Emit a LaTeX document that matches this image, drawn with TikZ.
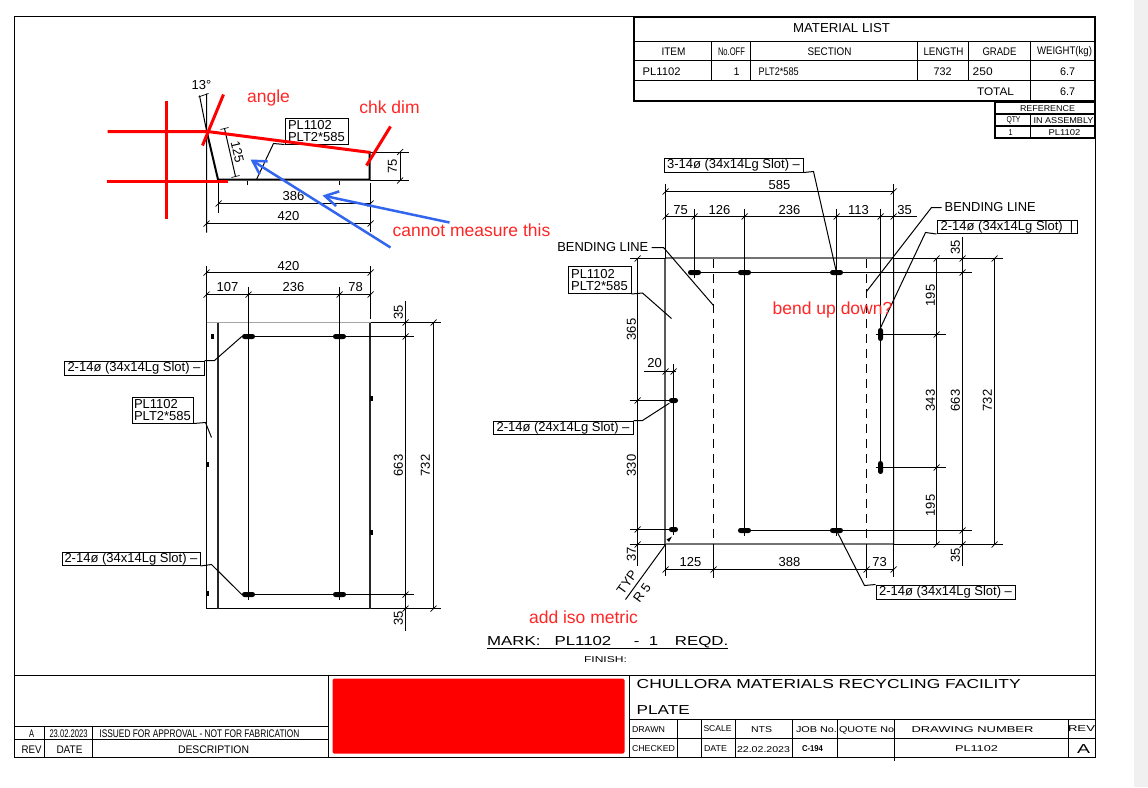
\documentclass[tikz,border=0pt]{standalone}
\usepackage{fontspec}
\usepackage{graphicx}
\setmainfont{Liberation Sans}
\usetikzlibrary{arrows.meta}
\definecolor{annred}{HTML}{FF2626}
\definecolor{annblue}{HTML}{3366EE}
\newcommand\W[2]{\resizebox{#1pt}{\height}{#2}}
\newcommand\fs[1]{\fontsize{#1}{#1}\selectfont}
\tikzset{
  x=1pt,y=-1pt,
  lbl/.style={inner sep=0pt,font=\fs{13}},
  small/.style={inner sep=0pt,font=\fs{11}},
  tiny/.style={inner sep=0pt,font=\fs{8.5}},
  vlbl/.style={inner sep=0pt,font=\fs{13},rotate=90},
  note/.style={inner sep=0pt,font=\fs{17.5},text=annred},
  tag/.style={draw,line width=1pt,inner sep=0pt,font=\fs{13},anchor=north west},
  tag2/.style={tag,align=left,font=\fontsize{13}{12}\selectfont},
  thin line/.style={line width=1pt},
  frame line/.style={line width=1.5pt},
  heavy line/.style={line width=2pt},
  tick/.style={line width=0.7pt},
  hslot/.style={fill=black,rectangle,rounded corners=2.4pt,minimum width=13pt,minimum height=5pt,inner sep=0pt},
  vslot/.style={fill=black,rectangle,rounded corners=2.4pt,minimum width=5pt,minimum height=13pt,inner sep=0pt},
  rslot/.style={fill=black,rectangle,rounded corners=2.4pt,minimum width=9pt,minimum height=5pt,inner sep=0pt},
  redmark/.style={draw=red,line width=3pt},
  bluearrow/.style={draw=annblue,line width=2.5pt,-{Straight Barb[length=13pt,width=15pt,line width=2.5pt]}},
}
\begin{document}
\begin{tikzpicture}
\useasboundingbox (0,0) rectangle (1148,787);
\fill[white] (0,0) rectangle (1148,787);
\fill[black!6] (1134,0) rectangle (1148,787);
\begin{scope}[shift={(0.5,0.5)}]

% ---------- sheet frame
\draw[frame line] (634,16) -- (14,16) -- (14,757) -- (1095,757) -- (1095,16);

% ---------- material list
\draw[heavy line] (633.5,16.5) rectangle (1094.5,100.5);
\draw[thin line] (634,41) -- (1095,41) (634,60) -- (1095,60) (634,80) -- (1095,80);
\draw[thin line] (711,41) -- (711,80) (750,41) -- (750,80) (917,41) -- (917,80) (968,41) -- (968,80) (1030,41) -- (1030,101);
\node[lbl] (mlt) at (841,28) {\W{97}{MATERIAL LIST}};
\foreach \x/\y/\w/\s [count=\i] in {
  673/51.5/24/ITEM, 731/51.5/27/No.OFF, 829/51.5/44/SECTION, 943/51.5/40/LENGTH, 999/51.5/34/GRADE,
  1064/51.5/55/WEIGHT(kg), 736/71.5/6/1, 942/71.5/18/732, 1067/71.5/15/6.7, 995/91/37/TOTAL, 1067/91/15/6.7}
  \node[small] (mt\i) at (\x,\y) {\W{\w}{\s}};
\node[small,anchor=west] (mt12) at (642,71.5) {\W{38}{PL1102}};
\node[small,anchor=west] (mt13) at (758,71.5) {\W{40}{PLT2*585}};
\node[small,anchor=west] (mt14) at (972,71.5) {\W{20}{250}};
\draw[heavy line] (994.5,101.5) rectangle (1094.5,137.5);
\draw[heavy line] (994.5,113.5) -- (1094.5,113.5) (994.5,125.5) -- (1094.5,125.5);
\draw[thin line] (1029.5,114) -- (1029.5,138);
\foreach \x/\y/\w/\s [count=\i] in {
  1047/108/55/REFERENCE, 1013/120/14/QTY, 1063/120/60/IN ASSEMBLY, 1010/132/4/1, 1064/132/32/PL1102}
  \node[tiny] (rt\i) at (\x,\y) {\W{\w}{\s}};

% ---------- title block
\draw[thin line] (14,675) -- (1095,675);
\draw[thin line] (328,674) -- (328,757) (629,675) -- (629,757);
\draw[thin line] (14,725.5) -- (328,725.5) (14,739) -- (328,739);
\draw[thin line] (44,725.5) -- (44,757) (92,725.5) -- (92,757);
\draw[thin line] (629,719) -- (1095,719) (629,738) -- (1095,738);
\foreach \x in {677,701,735,792,837,894,1068} \draw[thin line] (\x,719) -- (\x,757);
\draw[thin line] (894,757) -- (894,760);
\fill[red,rounded corners=1.5pt] (332,678) rectangle (624,753);
\foreach \x/\y/\w/\s [count=\i] in {
  31/733/5/A, 68/733/38/23.02.2023, 199/733/200/ISSUED FOR APPROVAL - NOT FOR FABRICATION,
  31/749.5/20/REV, 69/749/26/DATE, 213/749/71/DESCRIPTION}
  \node[small] (rv\i) at (\x,\y) {\W{\w}{\s}};
\node[lbl,anchor=west] (tb1) at (636,684) {\W{384}{CHULLORA MATERIALS RECYCLING FACILITY}};
\node[lbl,anchor=west] (tb2) at (636,709.5) {\W{53}{PLATE}};
\foreach \x/\y/\w/\s [count=\i] in {
  648/729.5/33/DRAWN, 653/748.5/43/CHECKED, 717/728.5/28/SCALE, 761/729.5/21/NTS, 816/729.5/41/JOB No.,
  866/729.5/55/QUOTE No, 972/729.5/122/DRAWING NUMBER, 1081/728/27/REV, 715/748/23/DATE,
  763/749/53/22.02.2023, 976/748/43/PL1102}
  \node[tiny] (tc\i) at (\x,\y) {\W{\w}{\s}};
\node[lbl] (tc12) at (1083,748.5) {\W{13}{A}};
\node[tiny,font=\fs{8.5}\bfseries] (tc13) at (812,748) {\W{21}{C-194}};

% ---------- mark line
\node[lbl,anchor=west] (mk) at (486.5,642) {\W{241}{MARK:\ \ \ PL1102\ \ \ \ \hspace{3pt}-\ \ 1\ \ \ \hspace{2pt}REQD.}};
\draw[thin line] (486,648) -- (727,648);
\node[tiny] (fin) at (605,659) {\W{43}{FINISH:}};

% ---------- section view (top left)
\draw[heavy line] (206,130) -- (217.5,179) -- (369,179) -- (369,152);
\draw[thin line] (206,93) -- (206,232) (206,130) -- (199,95);
\draw[tick] (198,96.5) -- (208,93);
\node[lbl] (an) at (201,85) {13°};
\draw[thin line] (224,128) -- (235,176);
\foreach \p in {(224,128),(235,176)} \draw[tick] \p ++(-4,1) -- ++(8,-2);
\node[lbl,rotate=-77] (d125) at (237,151.5) {125};
\draw[thin line] (369,151.5) -- (408,151.5) (369,180) -- (408,180) (399.5,151.5) -- (399.5,180);
\foreach \p in {(399.5,151.5),(399.5,180)} \draw[tick] \p ++(-3,3) -- ++(6,-6);
\node[vlbl] (d75) at (392,165.5) {75};
\draw[thin line] (218,181) -- (218,212) (370,182) -- (370,231) (218,203) -- (370,203) (206,223) -- (370,223);
\foreach \p in {(218,203),(370,203),(206,223),(370,223)} \draw[tick] \p ++(-3,3) -- ++(6,-6);
\node[lbl] (d386) at (293,196) {386};
\node[lbl] (d420a) at (288,215.5) {420};
\draw[thin line] (247,180) -- (247,184) (339,180) -- (339,184);
\node[tag2,minimum width=63pt,minimum height=26pt] (tagA) at (284,117) {PL1102\\PLT2*585};
\draw[thin line] (tagA.south west) -- (273,143) -- (256,179);

% ---------- left plan view
\draw[thin line,black!35] (206,322) -- (370,322);
\draw[thin line] (206,322) -- (206,608) -- (370,608);
\draw[heavy line,black!85] (217.5,322) -- (217.5,608) (369.5,322) -- (369.5,608);
\node[hslot] (s1) at (248,336) {};
\node[hslot] (s2) at (339,336) {};
\node[hslot] (s3) at (248,594) {};
\node[hslot] (s4) at (339,594) {};
\draw[thin line] (248,286) -- (248,599) (339,286) -- (339,599);
\draw[thin line] (s1) -- (413,336) (s3) -- (413,594);
\foreach \x/\y in {212/336,207.5/464,207.5/593,371/398,371/532}
  \fill (\x-1.2,\y-2.5) rectangle (\x+1.2,\y+2.5);
\draw[thin line] (206,265) -- (206,322) (370,265) -- (370,318) (206,272) -- (370,272) (206,294) -- (370,294);
\foreach \p in {(206,272),(370,272),(206,294),(248,294),(339,294),(370,294)} \draw[tick] \p ++(-3,3) -- ++(6,-6);
\draw[thin line] (405,300) -- (405,630) (433,322) -- (433,608) (370,322) -- (440,322) (370,608) -- (440,608);
\foreach \p in {(405,322),(405,336),(405,594),(405,608),(433,322),(433,608)} \draw[tick] \p ++(-3,3) -- ++(6,-6);
\foreach \x/\y/\s [count=\i] in {288/266/420,227/287/107,293/287/236,355/287/78}
  \node[lbl] (la\i) at (\x,\y) {\s};
\foreach \x/\y/\s [count=\i] in {398/312/35,398/465/663,398/618/35,425/465/732}
  \node[vlbl] (lv\i) at (\x,\y) {\s};
\node[tag,minimum width=140pt,minimum height=14pt] (tagB) at (63,360) {2-14ø (34x14Lg Slot) –};
\draw[thin line] (tagB.north east) -- (214,360) -- (s1.west);
\node[tag2,minimum width=61pt,minimum height=26pt] (tagC) at (131,396) {PL1102\\PLT2*585};
\draw[thin line] (tagC.south east) -- (205,422) -- (211,437);
\node[tag,minimum width=138pt,minimum height=13.5pt] (tagD) at (61,551) {2-14ø (34x14Lg Slot) –};
\draw[thin line] (tagD.south east) -- (211,564) -- (s3.west);

% ---------- right plan view
\draw[line width=1.6pt,black!65] (664.5,258) -- (664.5,544);
\draw[heavy line,black!55] (665,257.5) -- (893,257.5) (665,543.5) -- (893,543.5);
\draw[line width=1.2pt,black!15] (894,258) -- (894,544);
\draw[thin line,dash pattern=on 9pt off 6pt] (713,258) -- (713,544) (866,258) -- (866,544);
\draw[thin line] (713,544) -- (713,577) (866,544) -- (866,577);
\node[hslot] (r1) at (694,272) {};
\node[hslot] (r2) at (744,272) {};
\node[hslot] (r3) at (836,272) {};
\node[hslot] (r4) at (744,530) {};
\node[hslot] (r5) at (836,530) {};
\node[rslot] (r6) at (673,400) {};
\node[rslot] (r7) at (673,529) {};
\node[vslot] (r8) at (880,334) {};
\node[vslot] (r9) at (880,467) {};
\draw[thin line] (694,208) -- (694,277) (744,208) -- (744,535) (836,208) -- (836,535) (880,208) -- (880,473) (673,363) -- (673,534);
\draw[thin line] (665,183) -- (665,258) (665,544) -- (665,575) (893,183) -- (893,576);
\draw[thin line] (665,191) -- (893,191) (665,216) -- (916,216) (665,569) -- (893,569);
\draw[thin line] (629,258) -- (665,258) (893,258) -- (1002,258) (629,544) -- (665,544) (893,544) -- (1002,544);
\draw[thin line] (r1) -- (971,272) (r4) -- (971,530);
\draw[thin line] (629,400) -- (r6) (629,529) -- (r7);
\draw[thin line] (875,334) -- (945,334) (875,467) -- (945,467);
\draw[thin line] (637,258) -- (637,565) (643,371) -- (675,371);
\draw[thin line] (936,258) -- (936,544) (962,236) -- (962,565) (994,258) -- (994,544);
\foreach \p in {(665,191),(893,191),(665,216),(694,216),(744,216),(836,216),(880,216),(893,216),
  (665,569),(713,569),(866,569),(893,569),(665,371),(673,371),
  (637,258),(637,400),(637,529),(637,544),
  (936,258),(936,334),(936,467),(936,544),(962,258),(962,272),(962,530),(962,544),(994,258),(994,544)}
  \draw[tick] \p ++(-3,3) -- ++(6,-6);
\foreach \x/\y/\s [count=\i] in {779/185/585,680/210/75,719/210/126,789/210/236,858/210/113,904/210/35,
  654/363/20,690/561.5/125,789/561.5/388,879/561.5/73}
  \node[lbl] (lb\i) at (\x,\y) {\s};
\foreach \x/\y/\s [count=\i] in {631/329/365,631/465/330,631/554/37,930/295/195,930/400/343,930/505/195,
  955/247/35,955/400/663,955/555/35,987/400/732}
  \node[vlbl] (lc\i) at (\x,\y) {\s};
\node[tag,minimum width=139pt,minimum height=14pt] (tagE) at (663,157) {3-14ø (34x14Lg Slot) –};
\draw[thin line] (tagE.south east) -- (813,171) -- (r3);
\node[lbl,anchor=east] (bl1) at (648,247) {\W{91}{BENDING LINE}};
\coordinate (bl1e) at (713,305);
\draw[thin line] (bl1.east) ++(3,0) -- (663,247) -- (bl1e);
\node[tag2,minimum width=63pt,minimum height=27pt] (tagF) at (567,265.5) {PL1102\\PLT2*585};
\draw[thin line] (tagF.south east) -- (642,292.5) -- (671,318);
\node[lbl,anchor=west] (bl2) at (944,207) {\W{91}{BENDING LINE}};
\coordinate (bl2e) at (866,291);
\draw[thin line] (bl2.west) ++(-3,0) -- (931,207) -- (bl2e);
\node[tag,minimum width=140pt,minimum height=13.5pt] (tagG) at (936,219) {2-14ø (34x14Lg Slot)\ \ |};
\draw[thin line] (tagG.south west) -- (925,232) -- (r8.north);
\node[tag,minimum width=140pt,minimum height=13.5pt] (tagH) at (492,420) {2-14ø (24x14Lg Slot) –};
\draw[thin line] (tagH.north east) -- (642,420) -- (r6);
\node[tag,minimum width=139pt,minimum height=14pt] (tagI) at (875,584) {2-14ø (34x14Lg Slot) –};
\draw[thin line] (tagI.north west) -- (864,585) -- (r5);
\coordinate (typ) at (625,599);
\coordinate (typc) at (665,544);
\draw[thin line] (typ) -- (typc);
\fill (668.5,541.5) -- (671.5,536) -- (666,539) -- cycle;
\node[lbl,rotate=54] (typt) at (626.5,582) {TYP};
\node[lbl,rotate=54] (typr) at (641.5,592.5) {R 5};

% ---------- review mark-up
\draw[redmark] (107,131) -- (207,131) -- (370,152);
\draw[redmark] (106,181) -- (227,181);
\draw[redmark] (166,100) -- (166,218);
\draw[redmark] (223,94) -- (202,145);
\draw[redmark] (390,126) -- (366,165);
\draw[bluearrow] (390,247) -- (250,159);
\draw[bluearrow] (449,222) -- (322,195);
\node[note] (n1) at (268,97) {angle};
\node[note] (n2) at (389,107) {chk dim};
\node[note] (n3) at (471,230) {cannot measure this};
\node[note] (n4) at (832,309) {bend up down?};
\node[note] (n5) at (583,617) {add iso metric};
\end{scope}
\end{tikzpicture}
\end{document}
